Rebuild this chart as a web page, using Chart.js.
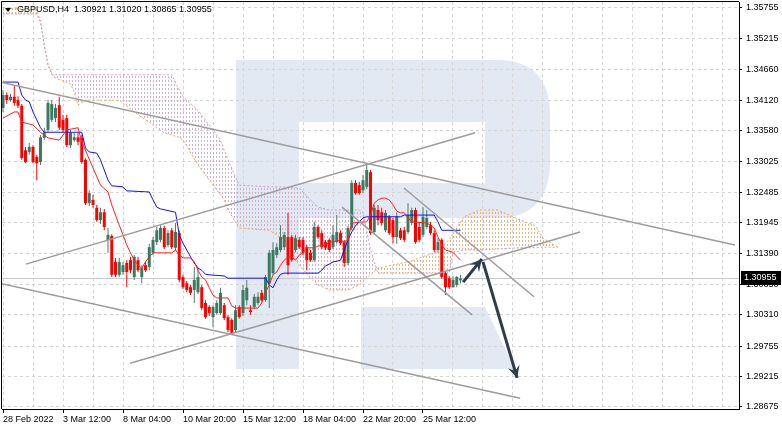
<!DOCTYPE html>
<html>
<head>
<meta charset="utf-8">
<script src="https://cdn.jsdelivr.net/npm/chart.js@4.4.0/dist/chart.umd.min.js"></script>
<style>
  html, body { margin: 0; padding: 0; background: #fff; }
  #wrap { width: 782px; height: 430px; }
</style>
</head>
<body>
<div id="wrap"><canvas id="chart" width="782" height="430"></canvas></div>
<script>
const symbolTitle = 'GBPUSD,H4';
const titleQuote = ['1.30921', '1.31020', '1.30865', '1.30955'];

// H4 candles, one per bar index
const opens = [1.3398,1.3421,1.3412,1.3418,1.3412,1.3402,1.3323,1.3320,1.3329,1.3311,
  1.3302,1.3345,1.3359,1.3377,1.3380,1.3403,1.3377,1.3380,1.3332,1.3341,
  1.3346,1.3345,1.3306,1.3229,1.3235,1.3221,1.3199,1.3213,1.3164,1.3171,
  1.3125,1.3102,1.3107,1.3123,1.3128,1.3098,1.3128,1.3098,1.3119,1.3116,
  1.3141,1.3160,1.3164,1.3185,1.3155,1.3181,1.3150,1.3176,1.3098,1.3087,
  1.3080,1.3075,1.3071,1.3080,1.3052,1.3045,1.3027,1.3034,1.3034,1.3048,
  1.3027,1.3022,1.3004,1.3045,1.3034,1.3057,1.3039,1.3045,1.3052,1.3070,
  1.3057,1.3087,1.3105,1.3137,1.3146,1.3151,1.3169,1.3169,1.3146,1.3164,
  1.3164,1.3151,1.3141,1.3128,1.3187,1.3176,1.3160,1.3164,1.3151,1.3160,
  1.3176,1.3160,1.3123,1.3185,1.3265,1.3261,1.3252,1.3258,1.3284,1.3178,
  1.3217,1.3213,1.3181,1.3205,1.3199,1.3169,1.3181,1.3181,1.3178,1.3194,
  1.3217,1.3187,1.3173,1.3187,1.3190,1.3176,1.3146,1.3164,1.3105,1.3096,
  1.3080,1.3084,1.30921];
const highs = [1.3430,1.3426,1.3423,1.3439,1.3419,1.3405,1.3329,1.3336,1.3332,1.3315,
  1.3350,1.3363,1.3412,1.3412,1.3405,1.3418,1.3386,1.3386,1.3359,1.3354,
  1.3354,1.3350,1.3309,1.3252,1.3244,1.3226,1.3221,1.3219,1.3185,1.3174,
  1.3132,1.3132,1.3125,1.3128,1.3134,1.3137,1.3134,1.3119,1.3125,1.3157,
  1.3169,1.3187,1.3190,1.3189,1.3181,1.3185,1.3194,1.3180,1.3102,1.3091,
  1.3084,1.3116,1.3114,1.3084,1.3057,1.3048,1.3048,1.3057,1.3079,1.3052,
  1.3031,1.3025,1.3048,1.3048,1.3084,1.3093,1.3048,1.3068,1.3071,1.3075,
  1.3102,1.3146,1.3160,1.3158,1.3190,1.3178,1.3212,1.3173,1.3173,1.3169,
  1.3169,1.3155,1.3146,1.3196,1.3190,1.3181,1.3164,1.3167,1.3190,1.3208,
  1.3181,1.3164,1.3189,1.3270,1.3270,1.3267,1.3279,1.3300,1.3288,1.3226,
  1.3226,1.3221,1.3217,1.3208,1.3203,1.3213,1.3185,1.3187,1.3229,1.3221,
  1.3221,1.3196,1.3222,1.3217,1.3196,1.3181,1.3167,1.3167,1.3109,1.3100,
  1.3100,1.3100,1.31020];
const lows = [1.3391,1.3405,1.3409,1.3402,1.3398,1.3306,1.3300,1.3315,1.3300,1.3270,
  1.3297,1.3341,1.3355,1.3373,1.3373,1.3359,1.3355,1.3329,1.3327,1.3338,
  1.3332,1.3299,1.3226,1.3224,1.3221,1.3196,1.3192,1.3181,1.3141,1.3098,
  1.3098,1.3098,1.3102,1.3080,1.3105,1.3093,1.3107,1.3087,1.3107,1.3110,
  1.3137,1.3155,1.3160,1.3148,1.3151,1.3148,1.3146,1.3089,1.3077,1.3071,
  1.3066,1.3052,1.3068,1.3039,1.3024,1.3029,1.3009,1.3031,1.3031,1.3022,
  1.3000,1.2997,1.2999,1.3024,1.3029,1.3048,1.3031,1.3041,1.3048,1.3054,
  1.3054,1.3043,1.3102,1.3132,1.3142,1.3146,1.3102,1.3125,1.3142,1.3148,
  1.3137,1.3110,1.3125,1.3125,1.3166,1.3148,1.3146,1.3142,1.3148,1.3157,
  1.3155,1.3116,1.3119,1.3181,1.3244,1.3244,1.3247,1.3254,1.3173,1.3174,
  1.3190,1.3189,1.3178,1.3173,1.3158,1.3157,1.3164,1.3160,1.3174,1.3190,
  1.3157,1.3160,1.3169,1.3183,1.3173,1.3142,1.3141,1.3095,1.3066,1.3077,
  1.3079,1.3080,1.30865];
const closes = [1.3421,1.3412,1.3418,1.3407,1.3402,1.3309,1.3302,1.3329,1.3302,1.3300,
  1.3346,1.3355,1.3407,1.3405,1.3398,1.3363,1.3359,1.3332,1.3354,1.3346,
  1.3338,1.3302,1.3229,1.3247,1.3226,1.3199,1.3213,1.3187,1.3173,1.3102,
  1.3102,1.3125,1.3119,1.3107,1.3110,1.3134,1.3110,1.3114,1.3110,1.3151,
  1.3164,1.3181,1.3185,1.3151,1.3176,1.3151,1.3178,1.3093,1.3080,1.3075,
  1.3070,1.3093,1.3098,1.3043,1.3027,1.3034,1.3045,1.3052,1.3070,1.3025,
  1.3004,1.2999,1.3039,1.3027,1.3075,1.3079,1.3036,1.3063,1.3063,1.3057,
  1.3098,1.3141,1.3146,1.3151,1.3169,1.3173,1.3119,1.3128,1.3167,1.3151,
  1.3141,1.3128,1.3128,1.3187,1.3169,1.3151,1.3150,1.3146,1.3173,1.3178,
  1.3158,1.3123,1.3185,1.3265,1.3247,1.3247,1.3270,1.3288,1.3176,1.3221,
  1.3199,1.3194,1.3212,1.3176,1.3169,1.3205,1.3167,1.3164,1.3208,1.3217,
  1.3160,1.3164,1.3205,1.3203,1.3176,1.3146,1.3160,1.3098,1.3080,1.3080,
  1.3093,1.3098,1.30955];

// Ichimoku lines (bar index, price)
const tenkanX = [0,3,4,5,8,10,12,15,17,20,21,26,28,29,30,31,32,33,34,35,36,37,38,39,40,45,46,47,48,50,
  51,52,53,54,55,56,57,60,61,62,68,69,70,71,72,73,74,75,76,77,78,79,80,81,83,84,86,87,89,90,
  91,92,93,97,98,99,100,101,102,103,104,105,106,107,108,109,113,114,115,116,117,118,120,121,122];
const tenkanY = [1.3380,1.3391,1.3391,1.3373,1.3368,1.3355,1.3345,1.3341,1.3359,1.3363,
  1.3338,1.3261,1.3249,1.3226,1.3208,1.3190,1.3173,1.3155,1.3141,1.3128,
  1.3119,1.3114,1.3125,1.3134,1.3141,1.3141,1.3146,1.3137,1.3132,1.3132,
  1.3125,1.3110,1.3098,1.3093,1.3079,1.3066,1.3061,1.3061,1.3047,1.3043,
  1.3043,1.3052,1.3071,1.3084,1.3102,1.3107,1.3119,1.3128,1.3134,1.3134,
  1.3128,1.3137,1.3141,1.3150,1.3150,1.3153,1.3155,1.3160,1.3162,1.3164,
  1.3160,1.3164,1.3194,1.3196,1.3208,1.3229,1.3235,1.3238,1.3238,1.3235,
  1.3226,1.3215,1.3212,1.3212,1.3203,1.3196,1.3194,1.3190,1.3185,1.3169,
  1.3155,1.3146,1.3142,1.3135,1.3128];
const kijunX = [0,4,5,6,7,8,9,10,11,21,22,23,25,26,27,28,29,32,33,39,40,41,42,46,47,48,49,50,51,52,
  53,54,55,59,60,70,71,72,73,74,75,84,85,86,87,88,89,90,91,92,93,94,95,96,97,106,107,115,116,117,122];
const kijunY = [1.3444,1.3444,1.3421,1.3412,1.3409,1.3391,1.3377,1.3363,1.3355,1.3355,
  1.3327,1.3320,1.3318,1.3306,1.3288,1.3270,1.3260,1.3258,1.3251,1.3249,
  1.3235,1.3222,1.3219,1.3213,1.3173,1.3158,1.3146,1.3134,1.3123,1.3114,
  1.3110,1.3103,1.3102,1.3100,1.3096,1.3096,1.3084,1.3079,1.3093,1.3103,
  1.3105,1.3105,1.3110,1.3118,1.3121,1.3125,1.3126,1.3128,1.3146,1.3164,
  1.3178,1.3189,1.3196,1.3203,1.3205,1.3205,1.3208,1.3208,1.3196,1.3181,1.3181];
const senkouX = [0,9,10,11,12,13,14,18,19,20,22,31,35,38,43,45,47,48,52,56,
  58,59,60,63,71,75,79,82,84,87,92,95,96,98,100,108,115,119,120,123,127,132,138,142,144,148];
const senkouA = [1.3576,1.3572,1.3551,1.3510,1.3474,1.3460,1.3451,1.3441,1.3426,1.3403,
  1.3412,1.3412,1.3391,1.3377,1.3354,1.3350,1.3346,1.3341,1.3297,1.3261,
  1.3244,1.3235,1.3217,1.3185,1.3181,1.3164,1.3119,1.3096,1.3084,1.3075,
  1.3075,1.3084,1.3089,1.3102,1.3114,1.3125,1.3141,1.3164,1.3176,1.3205,
  1.3217,1.3217,1.3199,1.3189,1.3167,1.3151];
const senkouB = [1.3565,1.3565,1.3551,1.3510,1.3474,1.3457,1.3457,1.3457,1.3457,1.3457,
  1.3457,1.3457,1.3457,1.3457,1.3457,1.3457,1.3430,1.3418,1.3394,1.3359,
  1.3341,1.3323,1.3306,1.3261,1.3258,1.3258,1.3256,1.3235,1.3222,1.3217,
  1.3217,1.3217,1.3213,1.3146,1.3105,1.3105,1.3105,1.3105,1.3142,1.3146,
  1.3146,1.3148,1.3150,1.3150,1.3151,1.3151];

// drawn objects: [fromIndex, fromPrice, toIndex, toPrice]
const trendLines = [
  [-0.8, 1.3444, 195.2, 1.3155],
  [-0.8, 1.3087, 137.9, 1.2883],
  [33.9, 1.2945, 153.9, 1.3178],
  [6.1, 1.3121, 125.9, 1.3354],
  [90.4, 1.3222, 125.1, 1.3031],
  [106.9, 1.3256, 141.6, 1.3063]
];
const arrowPaths = [
  [122.7, 1.3089, 127.7, 1.3130],
  [128.0, 1.3125, 137.1, 1.2919]
];

const yTicks = [1.35755,1.35215,1.34660,1.34120,1.33580,1.33025,1.32485,1.31945,1.31390,1.30850,1.30310,1.29755,1.29215,1.28675];
const xGridStep = 8;
const xLabelIdx = [0,16,32,48,64,80,96,112];
const xLabels = ['28 Feb 2022','3 Mar 12:00','8 Mar 04:00','10 Mar 20:00','15 Mar 12:00','18 Mar 04:00','22 Mar 20:00','25 Mar 12:00'];

const bullColor = '#3a7a61';
const bearColor = '#ff0000';
const sandy = '#f4a460';
const thistle = '#c9a0c9';

const canvas = document.getElementById('chart');
const ctx0 = canvas.getContext('2d');

// vertical dotted hatching like the terminal's cloud
function dotPattern(color) {
    const c = document.createElement('canvas');
    c.width = 3; c.height = 4;
    const g = c.getContext('2d');
    g.fillStyle = color;
    g.fillRect(0, 0, 1, 2);
    return ctx0.createPattern(c, 'repeat');
}

const idx = closes.map((_, i) => i);
const isUp = i => closes[i] >= opens[i];
const last = closes.length - 1;

const datasets = [
    {
        type: 'line', label: 'Senkou B',
        data: senkouX.map((x, k) => ({x, y: senkouB[k]})),
        borderColor: thistle, borderWidth: 1, borderDash: [2, 2],
        pointRadius: 0, fill: false, order: 10
    },
    {
        type: 'line', label: 'Senkou A',
        data: senkouX.map((x, k) => ({x, y: senkouA[k]})),
        borderColor: sandy, borderWidth: 1, borderDash: [2, 2],
        pointRadius: 0, order: 10,
        fill: {target: 0, above: dotPattern('#f5b07a'), below: dotPattern('#d2b0d2')}
    },
    {
        type: 'line', label: 'Price',
        data: [{x: -1, y: closes[last]}, {x: 200, y: closes[last]}],
        borderColor: '#c8c8c8', borderWidth: 1, pointRadius: 0, order: 9
    },
    {
        type: 'bar', label: 'Wicks',
        data: idx.map(i => ({x: i, y: [lows[i], highs[i]]})),
        backgroundColor: c => isUp(c.dataIndex) ? '#4f7d6c' : bearColor,
        barThickness: 1, grouped: false, inflateAmount: 0, minBarLength: 1, order: 8
    },
    {
        type: 'bar', label: 'Bodies',
        data: idx.map(i => ({x: i, y: [opens[i], closes[i]]})),
        backgroundColor: c => isUp(c.dataIndex) ? bullColor : bearColor,
        barThickness: 3, grouped: false, inflateAmount: 0, minBarLength: 1, order: 7
    },
    {
        type: 'line', label: 'Kijun',
        data: kijunX.map((x, k) => ({x, y: kijunY[k]})),
        borderColor: '#1010ff', borderWidth: 1, pointRadius: 0, order: 6
    },
    {
        type: 'line', label: 'Tenkan',
        data: tenkanX.map((x, k) => ({x, y: tenkanY[k]})),
        borderColor: '#ff2020', borderWidth: 1, pointRadius: 0, order: 5
    }
];

trendLines.forEach(t => datasets.push({
    type: 'line', data: [{x: t[0], y: t[1]}, {x: t[2], y: t[3]}],
    borderColor: '#9c9c9c', borderWidth: 1.5, pointRadius: 0, order: 3
}));
arrowPaths.forEach(a => datasets.push({
    type: 'line', data: [{x: a[0], y: a[1]}, {x: a[2], y: a[3]}],
    borderColor: '#2f3d4a', borderWidth: 3, pointRadius: 0, order: 1, arrowHead: true
}));

const decor = {
    id: 'decor',
    beforeDraw(chart) {
        const ctx = chart.ctx;
        ctx.save();
        ctx.fillStyle = '#fff';
        ctx.fillRect(0, 0, chart.width, chart.height);
        // faint "R" watermark
        const wm = '#e3e9f2';
        ctx.fillStyle = wm;
        ctx.fillRect(236, 60, 63, 309);
        ctx.beginPath();
        ctx.moveTo(299, 60);
        ctx.lineTo(500, 60);
        ctx.quadraticCurveTo(550, 62, 550, 115);
        ctx.lineTo(550, 165);
        ctx.quadraticCurveTo(548, 216, 500, 218);
        ctx.lineTo(299, 218);
        ctx.closePath();
        ctx.fill();
        ctx.fillStyle = '#fff';
        ctx.fillRect(299, 122, 186, 61);
        ctx.fillStyle = wm;
        ctx.beginPath();
        ctx.moveTo(361, 307);
        ctx.lineTo(485, 307);
        ctx.lineTo(515, 369);
        ctx.lineTo(361, 369);
        ctx.closePath();
        ctx.fill();
        ctx.restore();
    },
    afterDatasetsDraw(chart) {
        const ctx = chart.ctx;
        chart.data.datasets.forEach((d, di) => {
            if (!d.arrowHead) return;
            const pts = chart.getDatasetMeta(di).data;
            const a = pts[pts.length - 2], b = pts[pts.length - 1];
            const ang = Math.atan2(b.y - a.y, b.x - a.x);
            const len = 12, half = 6;
            const bx = b.x - len * Math.cos(ang), by = b.y - len * Math.sin(ang);
            ctx.save();
            ctx.fillStyle = d.borderColor;
            ctx.beginPath();
            ctx.moveTo(b.x, b.y);
            ctx.lineTo(bx + half * Math.sin(ang), by - half * Math.cos(ang));
            ctx.lineTo(b.x - 0.6 * len * Math.cos(ang), b.y - 0.6 * len * Math.sin(ang));
            ctx.lineTo(bx - half * Math.sin(ang), by + half * Math.cos(ang));
            ctx.closePath();
            ctx.fill();
            ctx.restore();
        });
    },
    afterDraw(chart) {
        const ctx = chart.ctx;
        const area = chart.chartArea;
        ctx.save();
        ctx.strokeStyle = '#000';
        ctx.lineWidth = 1;
        ctx.beginPath();
        ctx.moveTo(area.left - 0.5, area.bottom);
        ctx.lineTo(area.left - 0.5, area.top - 0.5);
        ctx.lineTo(area.right, area.top - 0.5);
        ctx.stroke();

        // title
        ctx.fillStyle = '#000';
        ctx.beginPath();
        ctx.moveTo(5, 8); ctx.lineTo(11, 8); ctx.lineTo(8, 12); ctx.closePath();
        ctx.fill();
        ctx.font = "9px 'Liberation Sans', Arial, sans-serif";
        ctx.textBaseline = 'middle';
        ctx.textAlign = 'left';
        ctx.fillText(symbolTitle + '  ' + titleQuote.join(' '), 17, 10);

        // current price tag
        const y = chart.scales.y.getPixelForValue(closes[last]);
        ctx.fillStyle = '#000';
        ctx.fillRect(area.right + 2, Math.round(y) - 7, 40, 14);
        ctx.fillStyle = '#fff';
        ctx.fillText(closes[last].toFixed(5), area.right + 5, Math.round(y));
        ctx.restore();
    }
};

Chart.defaults.font.family = "'Liberation Sans', Arial, sans-serif";
Chart.defaults.font.size = 9;
Chart.defaults.color = '#000';

new Chart(canvas, {
    type: 'line',
    data: {datasets},
    options: {
        responsive: false,
        animation: false,
        devicePixelRatio: 1,
        layout: {padding: {left: 2, top: 2, right: 0, bottom: 0}},
        plugins: {legend: {display: false}, tooltip: {enabled: false}},
        elements: {line: {tension: 0}},
        scales: {
            x: {
                type: 'linear',
                min: -0.27, max: 196.27,
                offset: false,
                afterBuildTicks: s => {
                    const t = [];
                    for (let v = 0; v <= 192; v += xGridStep) t.push({value: v});
                    s.ticks = t;
                },
                afterFit: s => { s.height = 21; s.paddingLeft = 0; s.paddingRight = 0; },
                grid: {
                    offset: false,
                    color: '#d6d6d6',
                    tickLength: 4,
                    tickColor: c => (c.tick && xLabelIdx.includes(c.tick.value)) ? '#000' : 'rgba(0,0,0,0)'
                },
                border: {display: true, color: '#000', width: 1, dash: [3, 3]},
                ticks: {
                    autoSkip: false, maxRotation: 0, align: 'start', padding: 1,
                    callback: v => {
                        const k = xLabelIdx.indexOf(v);
                        return k >= 0 ? xLabels[k] : '';
                    }
                }
            },
            y: {
                type: 'linear',
                position: 'right',
                min: 1.28639, max: 1.35861,
                beginAtZero: false,
                afterBuildTicks: s => { s.ticks = yTicks.map(v => ({value: v})); },
                afterFit: s => { s.width = 43; s.paddingTop = 0; s.paddingBottom = 0; },
                grid: {color: '#d6d6d6', tickLength: 3, tickColor: '#000'},
                border: {display: true, color: '#000', width: 1, dash: [3, 3]},
                ticks: {padding: 4, callback: v => v.toFixed(5)}
            }
        }
    },
    plugins: [decor]
});
</script>
</body>
</html>
